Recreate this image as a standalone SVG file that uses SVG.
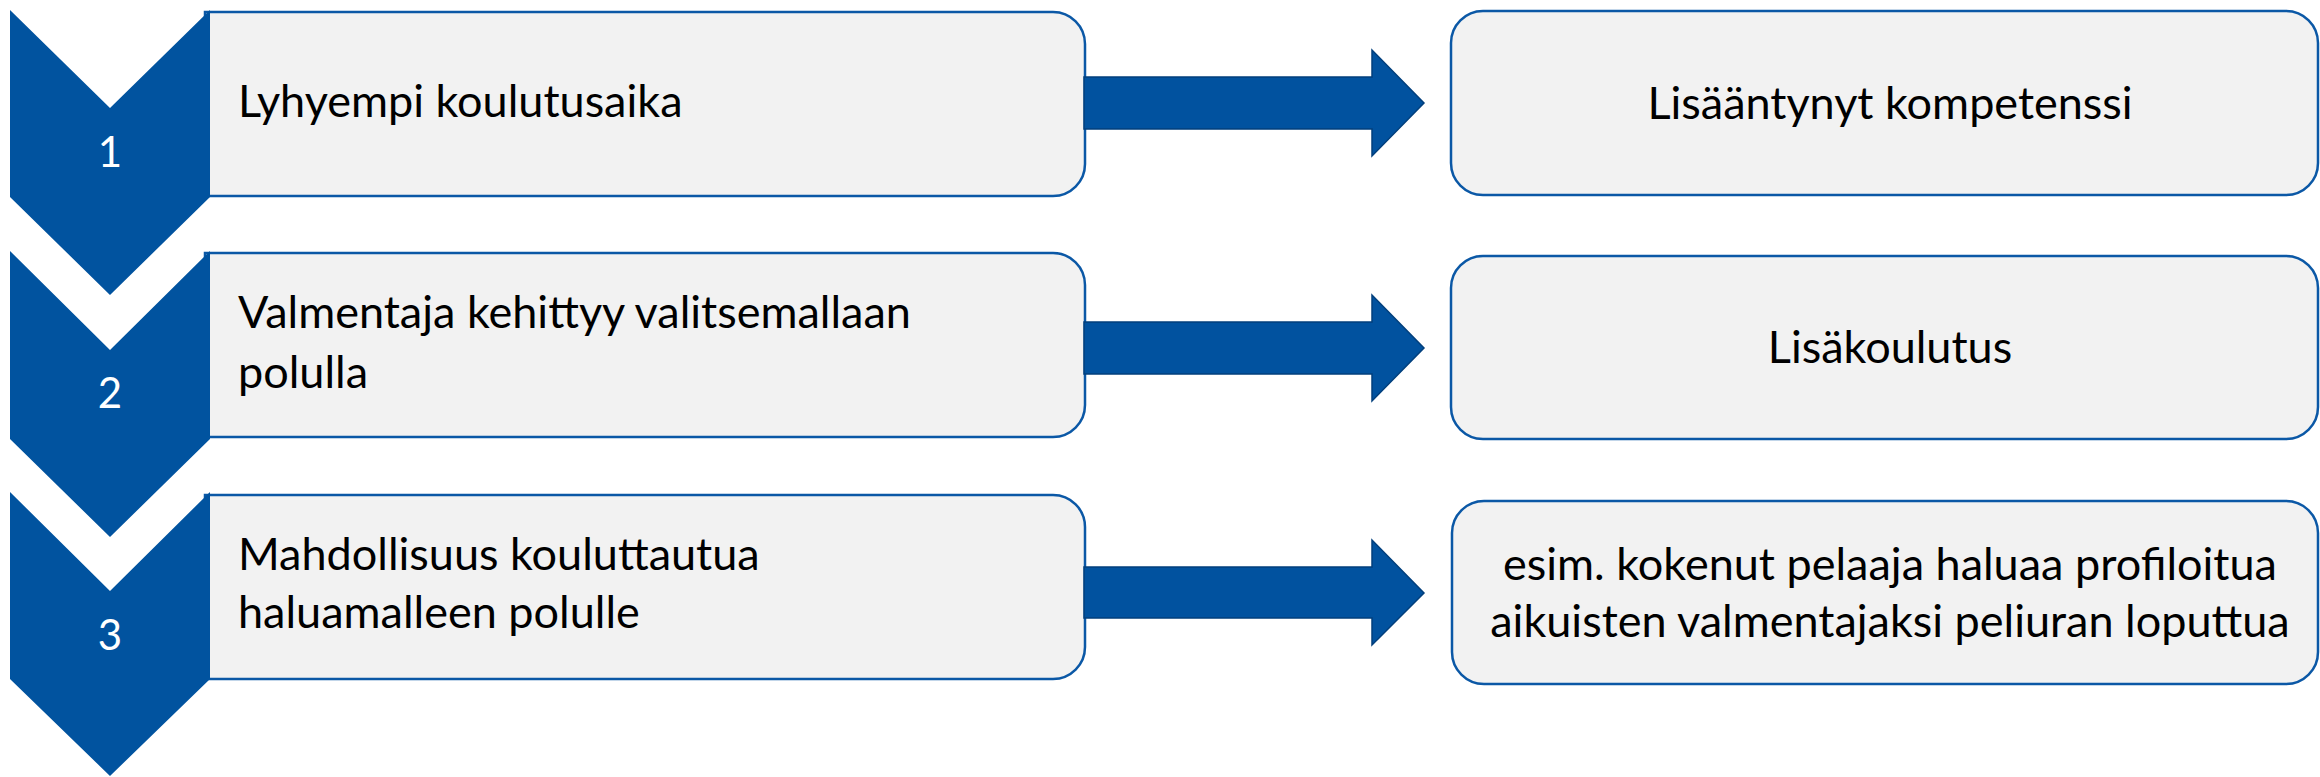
<svg xmlns="http://www.w3.org/2000/svg" width="2320" height="777" viewBox="0 0 2320 777">
<style>
.box{fill:#F2F2F2;stroke:#0B58A6;stroke-width:2.5}
.chev{fill:#01539F}
.arr{fill:#01529F;stroke:#023F7C;stroke-width:1.5}
.t{font-family:Lato,"Noto Sans",sans-serif;font-size:45px;fill:#000}
.n{font-family:Lato,"Noto Sans",sans-serif;font-size:42px;fill:#fff;text-anchor:middle}
.c{text-anchor:middle}
</style>
<rect width="2320" height="777" fill="#fff"/>
<g id="step1">
<path class="box" d="M205 12 H1053 A32 32 0 0 1 1085 44 V164 A32 32 0 0 1 1053 196 H205 Z"/>
<polygon class="chev" points="10,10 110,108 210,10 210,197 110,295 10,197"/>
<text class="n" x="110" y="167">1</text>
<text class="t" x="238" y="117">Lyhyempi koulutusaika</text>
</g>
<g id="step2">
<path class="box" d="M205 253 H1053 A32 32 0 0 1 1085 285 V405 A32 32 0 0 1 1053 437 H205 Z"/>
<polygon class="chev" points="10,251 110,350 210,251 210,439 110,537 10,439"/>
<text class="n" x="110" y="408">2</text>
<text class="t" x="238" y="328">Valmentaja kehittyy valitsemallaan</text>
<text class="t" x="238" y="388">polulla</text>
</g>
<g id="step3">
<path class="box" d="M205 495 H1053 A32 32 0 0 1 1085 527 V647 A32 32 0 0 1 1053 679 H205 Z"/>
<polygon class="chev" points="10,492 110,591 210,492 210,679 110,776 10,679"/>
<text class="n" x="110" y="650">3</text>
<text class="t" x="238" y="570">Mahdollisuus kouluttautua</text>
<text class="t" x="238" y="628">haluamalleen polulle</text>
</g>
<g id="result1">
<rect class="box" x="1451" y="11" width="867" height="184" rx="32"/>
<text class="t c" x="1890" y="119">Lisääntynyt kompetenssi</text>
</g>
<g id="result2">
<rect class="box" x="1451" y="256" width="867" height="183" rx="32"/>
<text class="t c" x="1890" y="363">Lisäkoulutus</text>
</g>
<g id="result3">
<rect class="box" x="1452" y="501" width="866" height="183" rx="32"/>
<text class="t c" x="1890" y="580">esim. kokenut pelaaja haluaa profiloitua</text>
<text class="t c" x="1890" y="637">aikuisten valmentajaksi peliuran loputtua</text>
</g>
<g id="connectors">
<polygon class="arr" points="1084,77 1372,77 1372,50 1424,103 1372,156 1372,129 1084,129"/>
<polygon class="arr" points="1084,322 1372,322 1372,295 1424,348 1372,401 1372,374 1084,374"/>
<polygon class="arr" points="1084,567 1372,567 1372,540 1424,593 1372,645 1372,618 1084,618"/>
</g>
</svg>
